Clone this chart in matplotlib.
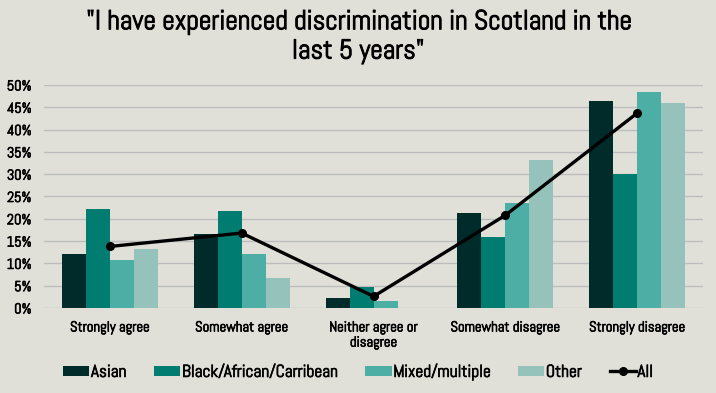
import matplotlib
matplotlib.use("Agg")
import matplotlib.pyplot as plt
import matplotlib.patheffects as pe
import numpy as np
from matplotlib.ticker import PercentFormatter, MultipleLocator
from matplotlib import font_manager as fm

categories = ["Strongly agree", "Somewhat agree", "Neither agree or\ndisagree",
              "Somewhat disagree", "Strongly disagree"]
asian = [12.2, 16.6, 2.3, 21.3, 46.4]
black = [22.2, 21.8, 4.6, 16.0, 30.1]
mixed = [10.8, 12.2, 1.6, 23.6, 48.4]
other = [13.3, 6.8, 0.0, 33.2, 46.0]
all_ = [13.8, 16.8, 2.6, 20.8, 43.7]

series = [("Asian", asian, "#002B2B"),
          ("Black/African/Carribean", black, "#007D70"),
          ("Mixed/multiple", mixed, "#4DAEA5"),
          ("Other", other, "#95C3BC")]

available = {f.name for f in fm.fontManager.ttflist}
cands = ["Tw Cen MT", "Abel", "Roboto Condensed", "Archivo Narrow", "PT Sans Narrow"]
fam = next((c for c in cands if c in available), "DejaVu Sans")

bg = "#E0E0D9"
plt.rcParams['font.family'] = [fam, 'DejaVu Sans']
thick = [pe.withStroke(linewidth=0.5, foreground="black")]
thick_t = [pe.withStroke(linewidth=0.7, foreground="black")]

fig = plt.figure(figsize=(7.16, 3.93), dpi=100, facecolor=bg)
ax = fig.add_axes([0.0615, 0.2163, 0.9205, 0.5674], facecolor=bg)

x = np.arange(len(categories))
w = 0.182
handles = []
for i, (name, vals, col) in enumerate(series):
    b = ax.bar(x + (i - 1.5) * w, np.array(vals) / 100, width=w, color=col, label=name, zorder=2)
    handles.append(b)
ln, = ax.plot(x, np.array(all_) / 100, color="black", lw=2.4, marker="o", ms=5.5, label="All", zorder=3)
handles.append(ln)

ax.set_xlim(-0.5, len(categories) - 0.5)
ax.set_ylim(0, 0.5)
ax.yaxis.set_major_locator(MultipleLocator(0.05))
ax.yaxis.set_major_formatter(PercentFormatter(1.0, decimals=0))
ax.grid(axis="y", color="#BDBDBD", lw=1, zorder=0)
for s in ax.spines.values():
    s.set_visible(False)
ax.tick_params(length=0, labelsize=10.5, colors="black")
ax.tick_params(axis="y", pad=9)
ax.set_xticks(x)
ax.set_xticklabels(categories, fontsize=10.5, linespacing=1.1)
ax.tick_params(axis="x", pad=9)
for t in ax.get_xticklabels() + ax.get_yticklabels():
    t.set_path_effects(thick)

fig.text(0.5, 0.906, '"I have experienced discrimination in Scotland in the\nlast 5 years"',
         ha="center", va="center", fontsize=19.8, linespacing=1.28, path_effects=thick_t)

leg = fig.legend(handles=handles, labels=[h.get_label() for h in handles],
                 loc="center", bbox_to_anchor=(0.5, 0.053), ncol=5, frameon=False,
                 fontsize=12.5, handlelength=1.5, handleheight=0.52, columnspacing=1.6,
                 handletextpad=0.1)
for t in leg.get_texts():
    t.set_path_effects(thick)
fig.savefig("out.png", dpi=100, facecolor=bg)
